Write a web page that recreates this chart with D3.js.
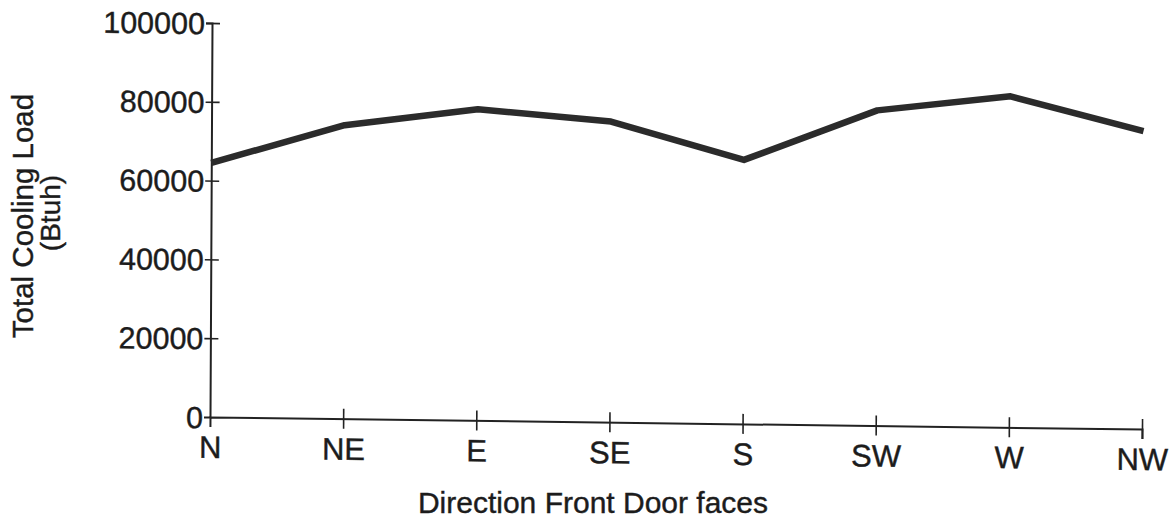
<!DOCTYPE html>
<html>
<head>
<meta charset="utf-8">
<script src="https://cdn.jsdelivr.net/npm/d3@7"></script>
<style>
  html, body { margin: 0; padding: 0; background: #fff; }
  svg text { font-family: "Liberation Sans", Arial, Helvetica, sans-serif; fill: #1c1c1c; stroke: #1c1c1c; stroke-width: 0.4px; }
</style>
</head>
<body>
<div id="chart"></div>
<script>
// values
const directions = ['N', 'NE', 'E', 'SE', 'S', 'SW', 'W', 'NW'];
const coolingLoad = [64500, 74500, 79000, 76300, 67000, 80000, 84000, 75600];
const yTicks = [0, 20000, 40000, 60000, 80000, 100000];

const width = 1171, height = 519;
const plotW = 932, plotH = 394;

const svg = d3.select('#chart').append('svg').attr('width', width).attr('height', height);

// the scan is slightly skewed, so the plot group is too
const g = svg.append('g').attr('transform', 'matrix(1,0.0129,-0.0051,1,210,417)');

const x = d3.scalePoint().domain(directions).range([0, plotW]);
const y = d3.scaleLinear().domain([0, 100000]).range([0, -plotH]);

const yAxis = g.append('g').call(d3.axisLeft(y).tickValues(yTicks).tickFormat(d3.format('d')).tickSizeOuter(0).tickSize(6).tickPadding(8));
yAxis.select('.domain').attr('stroke', '#222').attr('stroke-width', 2);
yAxis.selectAll('.tick line').attr('x1', -6).attr('x2', 8).attr('stroke', '#222').attr('stroke-width', 1.6);
yAxis.selectAll('.tick text').attr('x', -7).attr('dy', '0.35em').style('font-size', '30.5px');
yAxis.selectAll('.tick').filter(d => d === 0).select('line').remove();

const xAxis = g.append('g').call(d3.axisBottom(x).tickSizeOuter(0).tickSize(10));
xAxis.select('.domain').attr('stroke', '#222').attr('stroke-width', 2);
xAxis.selectAll('.tick line').attr('y1', -10).attr('y2', 10).attr('stroke', '#222').attr('stroke-width', 1.6);
xAxis.selectAll('.tick').filter(d => d === 'N').select('line').remove();
xAxis.selectAll('.tick text').attr('y', 41).attr('dy', 0).style('font-size', '31px');

const line = d3.line().x((d, i) => x(directions[i])).y(d => y(d));
g.append('path')
  .datum(coolingLoad)
  .attr('d', line)
  .attr('fill', 'none')
  .attr('stroke', '#2b2b2b')
  .attr('stroke-width', 6.5)
  .attr('stroke-linejoin', 'round');

// axis titles
svg.append('text')
  .attr('transform', 'translate(33,216) rotate(-90)')
  .attr('text-anchor', 'middle')
  .style('font-size', '29.5px')
  .text('Total Cooling Load');
svg.append('text')
  .attr('transform', 'translate(60,213) rotate(-90)')
  .attr('text-anchor', 'middle')
  .style('font-size', '28px')
  .text('(Btuh)');
svg.append('text')
  .attr('x', 593).attr('y', 513)
  .attr('text-anchor', 'middle')
  .style('font-size', '30px')
  .text('Direction Front Door faces');
</script>
</body>
</html>
